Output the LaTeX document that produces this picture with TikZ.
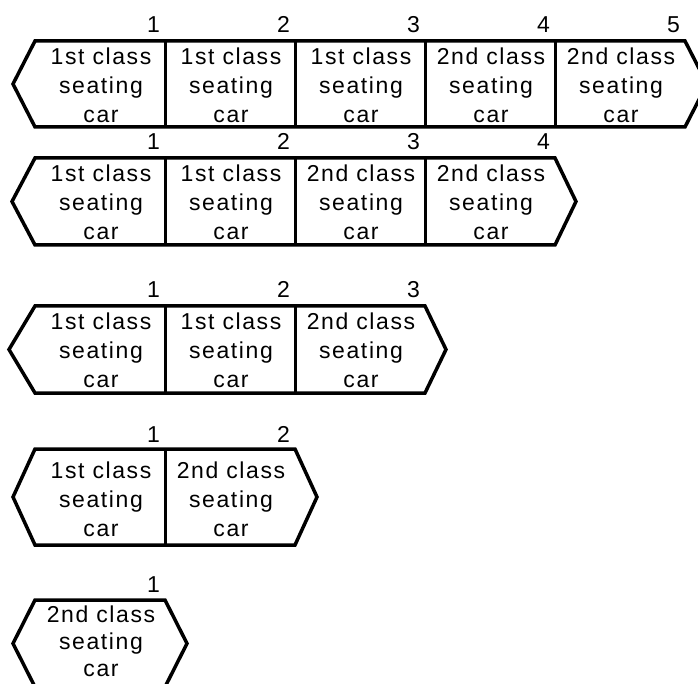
\documentclass[tikz,border=0pt]{standalone}
\usepackage{fontspec}
\setmainfont{Liberation Sans}
\newfontfamily\carfont{Liberation Sans}[LetterSpace=7]

\begin{document}
\begin{tikzpicture}[x=1pt, y=-1pt,
    outline/.style={line width=3.5pt},
    divider/.style={line width=3pt},
    car/.style={align=center, inner sep=0pt, font=\carfont\fontsize{23}{29}\selectfont},
    carno/.style={anchor=base east, inner sep=0pt, font=\fontsize{23}{27}\selectfont}]
  \useasboundingbox (0,0) rectangle (698,684);

  % five cars
  \draw[outline] (35,41) -- (685,41) -- (707,84) -- (685,127) -- (35,127) -- (13,84) -- cycle;
  \draw[divider] (165,41) -- (165,127);
  \draw[divider] (295,41) -- (295,127);
  \draw[divider] (425,41) -- (425,127);
  \draw[divider] (555,41) -- (555,127);
  \node[car] (a1) at (101,85) {1st class\\seating\\car};
  \node[car] (a2) at (231,85) {1st class\\seating\\car};
  \node[car] (a3) at (361,85) {1st class\\seating\\car};
  \node[car] (a4) at (491,85) {2nd class\\seating\\car};
  \node[car] (a5) at (621,85) {2nd class\\seating\\car};
  \node[carno] (na1) at (160,33) {1};
  \node[carno] (na2) at (290,33) {2};
  \node[carno] (na3) at (420,33) {3};
  \node[carno] (na4) at (550,33) {4};
  \node[carno] (na5) at (680,33) {5};

  % four cars
  \draw[outline] (35,158) -- (555,158) -- (576,201.5) -- (555,245) -- (35,245) -- (12,201.5) -- cycle;
  \draw[divider] (165,158) -- (165,245);
  \draw[divider] (295,158) -- (295,245);
  \draw[divider] (425,158) -- (425,245);
  \node[car] (b1) at (101,202.5) {1st class\\seating\\car};
  \node[car] (b2) at (231,202.5) {1st class\\seating\\car};
  \node[car] (b3) at (361,202.5) {2nd class\\seating\\car};
  \node[car] (b4) at (491,202.5) {2nd class\\seating\\car};
  \node[carno] (nb1) at (160,150) {1};
  \node[carno] (nb2) at (290,150) {2};
  \node[carno] (nb3) at (420,150) {3};
  \node[carno] (nb4) at (550,150) {4};

  % three cars
  \draw[outline] (35,306) -- (425,306) -- (446,349.5) -- (425,393) -- (35,393) -- (9,349.5) -- cycle;
  \draw[divider] (165,306) -- (165,393);
  \draw[divider] (295,306) -- (295,393);
  \node[car] (c1) at (101,350.5) {1st class\\seating\\car};
  \node[car] (c2) at (231,350.5) {1st class\\seating\\car};
  \node[car] (c3) at (361,350.5) {2nd class\\seating\\car};
  \node[carno] (nc1) at (160,298) {1};
  \node[carno] (nc2) at (290,298) {2};
  \node[carno] (nc3) at (420,298) {3};

  % two cars
  \draw[outline] (35,449) -- (295,449) -- (317,497) -- (295,545) -- (35,545) -- (13,497) -- cycle;
  \draw[divider] (165,449) -- (165,545);
  \node[car] (d1) at (101,499) {1st class\\seating\\car};
  \node[car] (d2) at (231,499) {2nd class\\seating\\car};
  \node[carno] (nd1) at (160,442) {1};
  \node[carno] (nd2) at (290,442) {2};

  % one car
  \draw[outline] (35,600) -- (165,600) -- (187,643.5) -- (165,687) -- (35,687) -- (13,643.5) -- cycle;
  \node[car, font=\carfont\fontsize{23}{27}\selectfont] (e1) at (101,641) {2nd class\\seating\\car};
  \node[carno] (ne1) at (160,592) {1};
\end{tikzpicture}
\end{document}
